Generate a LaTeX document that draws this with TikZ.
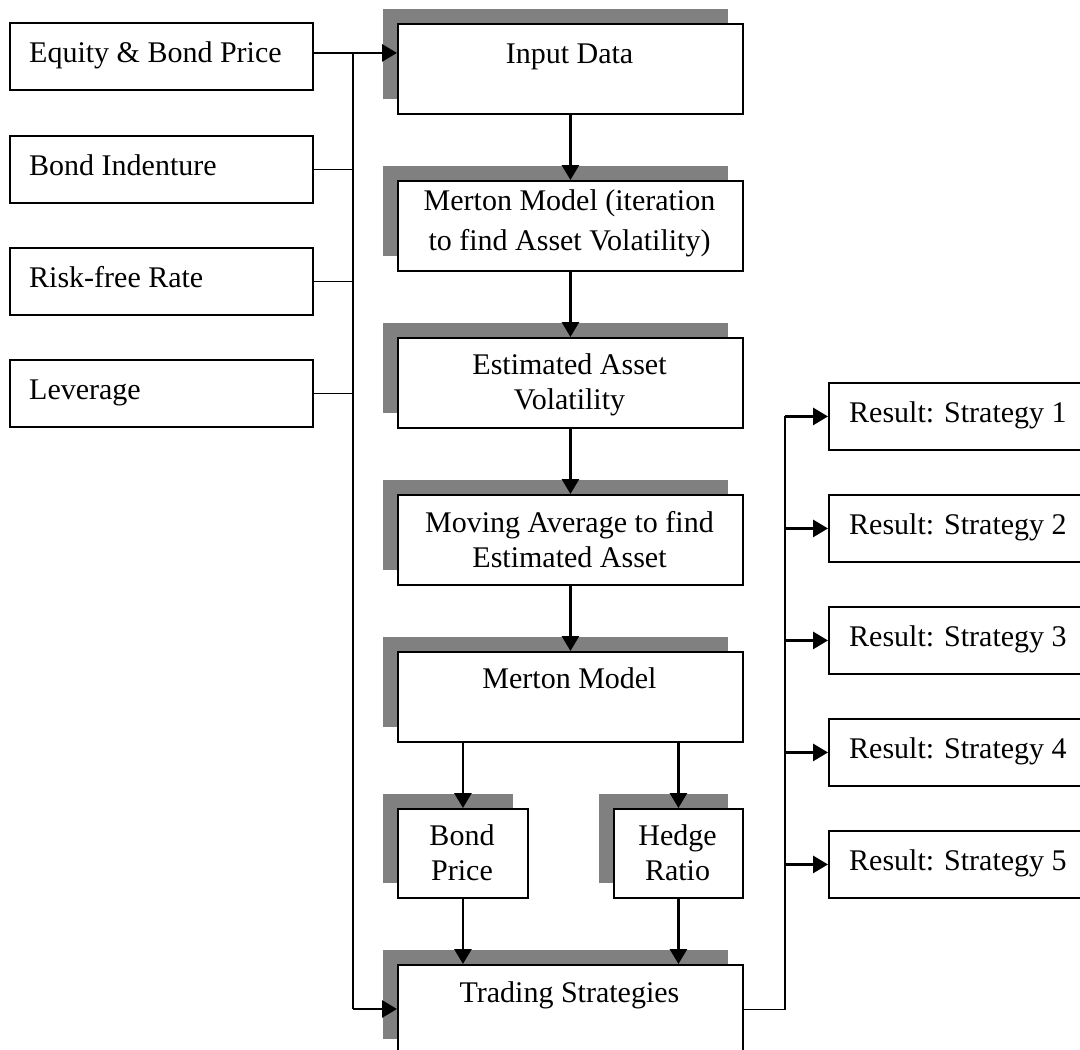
\documentclass[tikz,border=0pt]{standalone}
\usepackage{fontspec}
\setmainfont{Liberation Serif}
\usetikzlibrary{arrows.meta,shadows}
\definecolor{shgray}{HTML}{808080}
\begin{document}
\begin{tikzpicture}[x=1pt,y=-1pt,
  box/.style={draw=black, line width=1.9pt, fill=white, rectangle, inner sep=0pt, anchor=north west},
  shbox/.style={box, general shadow={fill=shgray, draw=none, shadow xshift=-15pt, shadow yshift=15pt}},
  inbox/.style={box, minimum width=303pt, minimum height=67pt},
  midbox/.style={shbox, minimum width=345pt, minimum height=90pt},
  smallbox/.style={shbox, minimum width=130pt, minimum height=89pt},
  resbox/.style={box, minimum width=290pt, minimum height=67pt},
  txt/.style={font=\fontsize{30}{35}\selectfont, inner sep=0pt},
  thk/.style={line width=2.9pt, -{Triangle[length=15pt,width=17pt]}},
  thn/.style={line width=1.6pt},
]
\path[use as bounding box, clip] (0,0) rectangle (1080,1050);

% input boxes on the left
\node[inbox] (equity) at (9,22) {};
\node[inbox] (indent) at (9,135) {};
\node[inbox] (rf) at (9,247) {};
\node[inbox] (lev) at (9,359) {};
\node[txt, anchor=base west] (tequity) at (29,62) {Equity \& Bond Price};
\node[txt, anchor=base west] (tindent) at (29,175) {Bond Indenture};
\node[txt, anchor=base west] (trf) at (29,287) {Risk-free Rate};
\node[txt, anchor=base west] (tlev) at (29,399) {Leverage};

% central column
\node[midbox] (input) at (397,23) {};
\node[midbox] (merton1) at (397,180) {};
\node[midbox] (estvol) at (397,337) {};
\node[midbox] (movavg) at (397,494) {};
\node[midbox] (merton2) at (397,651) {};
\node[smallbox] (bond) at (397,808) {};
\node[smallbox, minimum width=129pt] (hedge) at (613,808) {};
\node[midbox, minimum height=89pt] (trading) at (397,964) {};

\node[txt, anchor=base] (tinput) at (569.5,63) {Input Data};
\node[txt, anchor=north, align=center] (tmerton1) at (569.5,189.5) {Merton Model (iteration\\[5pt]to find Asset Volatility)};
\node[txt, anchor=north, align=center] (testvol) at (569.5,353.5) {Estimated Asset\\Volatility};
\node[txt, anchor=north, align=center] (tmovavg) at (569.5,511.5) {Moving Average to find\\Estimated Asset};
\node[txt, anchor=base] (tmerton2) at (569.5,688) {Merton Model};
\node[txt, anchor=north, align=center] (tbond) at (462,824.5) {Bond\\Price};
\node[txt, anchor=north, align=center] (thedge) at (677.5,824.5) {Hedge\\Ratio};
\node[txt, anchor=base] (ttrading) at (569.5,1002) {Trading Strategies};

% results on the right
\node[resbox] (r1) at (828,382) {};
\node[resbox] (r2) at (828,494) {};
\node[resbox] (r3) at (828,606) {};
\node[resbox] (r4) at (828,718) {};
\node[resbox] (r5) at (828,830) {};
\node[txt, anchor=base west] (tr1) at (849,422) {Result: Strategy 1};
\node[txt, anchor=base west] (tr2) at (849,534) {Result: Strategy 2};
\node[txt, anchor=base west] (tr3) at (849,646) {Result: Strategy 3};
\node[txt, anchor=base west] (tr4) at (849,758) {Result: Strategy 4};
\node[txt, anchor=base west] (tr5) at (849,870) {Result: Strategy 5};

% central flow
\draw[thk] (input.south) -- (merton1.north);
\draw[thk] (merton1.south) -- (estvol.north);
\draw[thk] (estvol.south) -- (movavg.north);
\draw[thk] (movavg.south) -- (merton2.north);
\draw[thk] (merton2.south -| bond.north) -- (bond.north);
\draw[thk] (merton2.south -| hedge.north) -- (hedge.north);
\draw[thk] (bond.south) -- (bond.south |- trading.north);
\draw[thk] (hedge.south) -- (hedge.south |- trading.north);

% left bus
\coordinate (lbt) at (353,52);
\coordinate (lbb) at (353,1009);
\draw[thk] ([yshift=3.5pt]equity.east) -- ([yshift=3.5pt]equity.east -| input.west);
\draw[thn] (lbt) -- (lbb);
\draw[thk] (lbb) -- (lbb -| trading.west);
\draw[thn] (indent.east) -- (indent.east -| lbt);
\draw[thn] (rf.east) -- (rf.east -| lbt);
\draw[thn] (lev.east) -- (lev.east -| lbt);

% right bus
\coordinate (rbt) at (785,415.5);
\draw[thn] (trading.east) -- (trading.east -| rbt) -- (rbt);
\draw[thk] (r1.west -| rbt) -- (r1.west);
\draw[thk] (r2.west -| rbt) -- (r2.west);
\draw[thk] (r3.west -| rbt) -- (r3.west);
\draw[thk] (r4.west -| rbt) -- (r4.west);
\draw[thk] (r5.west -| rbt) -- (r5.west);
\end{tikzpicture}
\end{document}
